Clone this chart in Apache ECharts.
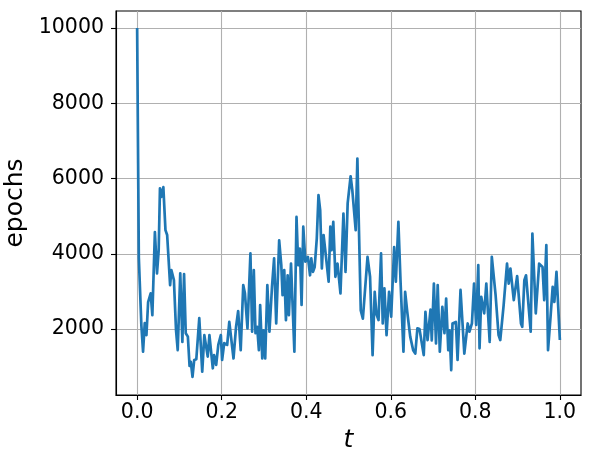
<!DOCTYPE html>
<html>
<head>
<meta charset="utf-8">
<script src="https://cdn.jsdelivr.net/npm/echarts@6/dist/echarts.min.js"></script>
<style>
  html, body { margin: 0; padding: 0; background: #fff; }
  #chart { width: 590px; height: 464px; }
</style>
</head>
<body>
<div id="chart"></div>
<script>
// sample positions along t and the epochs needed at each
const tValues = [
  0.000, 0.004, 0.010, 0.014, 0.018, 0.022, 0.026, 0.032, 0.036, 0.042,
  0.047, 0.051, 0.054, 0.057, 0.062, 0.067, 0.071, 0.078, 0.081, 0.087,
  0.092, 0.096, 0.102, 0.107, 0.111, 0.115, 0.120, 0.124, 0.127, 0.131,
  0.135, 0.140, 0.147, 0.154, 0.159, 0.167, 0.171, 0.179, 0.182, 0.187,
  0.192, 0.198, 0.201, 0.206, 0.213, 0.218, 0.222, 0.228, 0.234, 0.239,
  0.245, 0.251, 0.255, 0.261, 0.268, 0.272, 0.276, 0.280, 0.284, 0.288,
  0.291, 0.296, 0.299, 0.303, 0.308, 0.313, 0.319, 0.324, 0.329, 0.336,
  0.341, 0.344, 0.348, 0.352, 0.356, 0.359, 0.364, 0.372, 0.377, 0.381,
  0.385, 0.389, 0.393, 0.398, 0.404, 0.409, 0.412, 0.416, 0.420, 0.425,
  0.429, 0.433, 0.437, 0.441, 0.445, 0.453, 0.457, 0.460, 0.464, 0.469,
  0.474, 0.481, 0.488, 0.493, 0.498, 0.505, 0.509, 0.517, 0.521, 0.526,
  0.529, 0.534, 0.538, 0.545, 0.551, 0.557, 0.562, 0.566, 0.571, 0.577,
  0.581, 0.585, 0.590, 0.596, 0.601, 0.608, 0.612, 0.618, 0.623, 0.630,
  0.634, 0.639, 0.643, 0.646, 0.653, 0.658, 0.663, 0.668, 0.678, 0.682,
  0.687, 0.694, 0.697, 0.702, 0.707, 0.711, 0.716, 0.722, 0.727, 0.731,
  0.736, 0.739, 0.743, 0.746, 0.750, 0.754, 0.758, 0.765, 0.774, 0.782,
  0.786, 0.792, 0.797, 0.802, 0.807, 0.810, 0.814, 0.821, 0.826, 0.834,
  0.839, 0.848, 0.855, 0.859, 0.867, 0.870, 0.875, 0.879, 0.883, 0.891,
  0.899, 0.908, 0.911, 0.916, 0.920, 0.931, 0.935, 0.943, 0.951, 0.959,
  0.963, 0.968, 0.972, 0.978, 0.983, 0.987, 0.992, 1.000
]
const epochs = [
  10000, 3900, 2100, 1400, 2160, 1840, 2720, 2950, 2370, 4580,
  3480, 4100, 5740, 5510, 5770, 4630, 4500, 3170, 3570, 3300,
  1970, 1440, 3480, 1660, 3460, 1890, 1800, 1020, 1130, 730,
  1180, 1200, 2290, 870, 1840, 1270, 1840, 960, 1310, 1050,
  1580, 1840, 1180, 1630, 1580, 2190, 2240, 1220, 2060, 2480,
  1440, 3170, 2950, 2020, 4010, 1930, 3570, 1890, 2060, 1440,
  2640, 1220, 1970, 1220, 3170, 1930, 3120, 3880, 2150, 4360,
  3700, 2900, 3570, 2240, 3430, 2370, 3740, 1400, 4980, 3700,
  4140, 2640, 4720, 3790, 3920, 3430, 3880, 3520, 3650, 4410,
  5560, 5160, 3610, 4500, 4100, 3260, 4720, 4100, 4850, 3390,
  3740, 2950, 5070, 3520, 5340, 6060, 5690, 4630, 6530, 4010,
  2500, 2280, 2300, 3920, 3390, 1310, 2990, 2400, 2240, 4010,
  2150, 3080, 1840, 2990, 2330, 4180, 3260, 4850, 3300, 1400,
  2990, 2460, 2430, 1800, 1440, 1350, 2020, 2000, 1310, 2460,
  1710, 2520, 1700, 3210, 1620, 3170, 1400, 2590, 1890, 2810,
  1440, 1970, 910, 2150, 2100, 2190, 1180, 3040, 1350, 2150,
  1930, 2150, 3210, 2110, 3700, 1490, 2860, 2420, 3210, 1660,
  3920, 2900, 1840, 1710, 2640, 2650, 3740, 3210, 3610, 2770,
  3410, 2150, 2060, 3300, 3430, 1930, 4540, 2420, 3740, 3650,
  2770, 4230, 1440, 2330, 3120, 2720, 3520, 1710
]
const xTicks = [0, 0.2, 0.4, 0.6, 0.8, 1.0]
const yTicks = [2000, 4000, 6000, 8000, 10000]

const chart = echarts.init(document.getElementById('chart'))
const font = 'DejaVu Sans'
const gridLine = { show: true, lineStyle: { color: '#b0b0b0', width: 1.1 } }

chart.setOption({
  animation: false,
  grid: {
    left: 116, top: 11, right: 9, bottom: 69,
    show: true, borderColor: '#000', borderWidth: 1.1,
    containLabel: false, outerBoundsMode: 'none'
  },
  xAxis: {
    type: 'value',
    min: -0.05,
    max: 1.05,
    name: 't',
    nameLocation: 'middle',
    nameGap: 30,
    nameTextStyle: { fontFamily: font, fontSize: 25, fontStyle: 'italic', color: '#000' },
    axisLine: { show: true, onZero: false, lineStyle: { color: '#000', width: 1.1 } },
    axisTick: { show: true, length: 5, customValues: xTicks, lineStyle: { color: '#000', width: 1.1 } },
    axisLabel: {
      customValues: xTicks,
      margin: 7,
      fontFamily: font, fontSize: 20.5, color: '#000',
      formatter: v => v.toFixed(1)
    },
    splitLine: gridLine
  },
  yAxis: {
    type: 'value',
    min: 250,
    max: 10450,
    name: 'epochs',
    nameLocation: 'middle',
    nameGap: 77,
    nameTextStyle: { fontFamily: font, fontSize: 25, color: '#000' },
    axisLine: { show: true, onZero: false, lineStyle: { color: '#000', width: 1.1 } },
    axisTick: { show: true, length: 5, customValues: yTicks, lineStyle: { color: '#000', width: 1.1 } },
    axisLabel: {
      customValues: yTicks,
      margin: 12,
      fontFamily: font, fontSize: 20.5, color: '#000',
      formatter: v => String(v)
    },
    splitLine: gridLine
  },
  series: [
    {
      type: 'line',
      data: tValues.map((t, i) => [t, epochs[i]]),
      showSymbol: false,
      symbol: 'none',
      lineStyle: { color: '#1f77b4', width: 2.7, join: 'round' },
      z: 3
    }
  ]
})
</script>
</body>
</html>
